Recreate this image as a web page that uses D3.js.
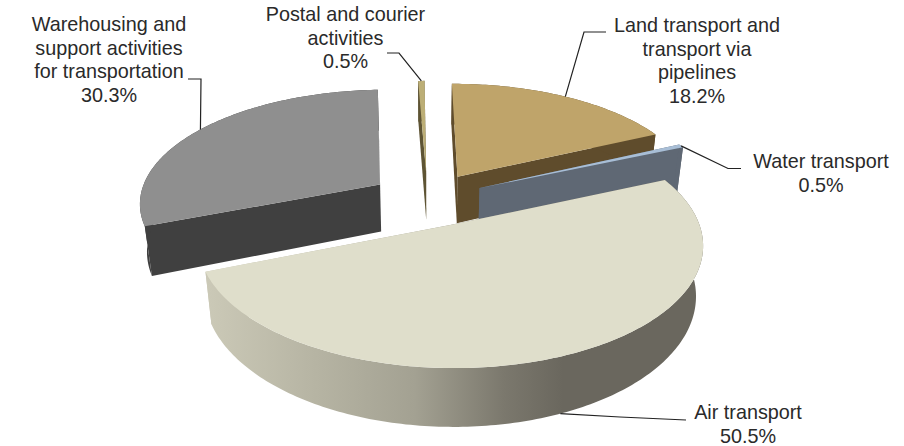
<!DOCTYPE html>
<html>
<head>
<meta charset="utf-8">
<script src="https://cdn.jsdelivr.net/npm/d3@7"></script>
<style>
  html, body { margin: 0; padding: 0; background: #fff; }
  svg { display: block; }
  text { font-family: "Liberation Sans", Arial, sans-serif; font-size: 19.8px; fill: #2a2a2a; text-anchor: middle; }
</style>
</head>
<body>
<svg></svg>
<script>
const categories = [
  "Land transport and transport via pipelines",
  "Water transport",
  "Air transport",
  "Warehousing and support activities for transportation",
  "Postal and courier activities",
];
const shares = [18.2, 0.5, 50.5, 30.3, 0.5];

const topColors = ["#bfa46a", "#a8bed6", "#dfdecb", "#8f8f8f", "#bcae76"];
const sideColors = ["#5f4c2c", "#5f6874", "url(#airSide)", "#404040", "#5e5434"];

const width = 904;
const height = 446;
const svg = d3.select("svg").attr("width", width).attr("height", height);

// pie geometry
const rotation = (-0.5 * Math.PI) / 180;
const explode = 0.24;
const perspective = 0.15;
const bottomShrink = 0.025;
const depth = 0.425;

const xScale = d3.scaleLinear().domain([-1, 1]).range([427.5 - 241, 427.5 + 241]);
const yScale = d3.scaleLinear().domain([-1, 1]).range([199 + 113, 199 - 113]);

const project = (u, z, d) => {
  const w = 1 + perspective * z;
  return [xScale(u / (w + bottomShrink * d)), yScale((z - depth * d) / w)];
};

const slices = d3
  .pie()
  .sort(null)
  .startAngle(rotation)
  .endAngle(rotation + 2 * Math.PI)(shares);

const line = d3.line();

// point on a slice in plane coordinates; r = 0 is the apex, r = 1 the rim
const pointOn = (slice, angle, r, d) => {
  const mid = (slice.startAngle + slice.endAngle) / 2;
  const u = explode * Math.sin(mid) + r * Math.sin(angle);
  const z = explode * Math.cos(mid) + r * Math.cos(angle);
  return project(u, z, d);
};

const rimAngles = (slice) => {
  const n = Math.max(2, Math.ceil((slice.endAngle - slice.startAngle) * 60));
  return d3.range(n + 1).map((i) => slice.startAngle + ((slice.endAngle - slice.startAngle) * i) / n);
};

const defs = svg.append("defs");
const airGradient = defs
  .append("linearGradient")
  .attr("id", "airSide")
  .attr("gradientUnits", "userSpaceOnUse")
  .attr("x1", 207)
  .attr("x2", 702)
  .attr("y1", 0)
  .attr("y2", 0);
[
  [0, "#cbc9b7"],
  [0.22, "#b6b4a3"],
  [0.42, "#a3a192"],
  [0.6, "#7b786d"],
  [0.72, "#6a675e"],
  [1, "#6a675e"],
].forEach((s) => airGradient.append("stop").attr("offset", s[0]).attr("stop-color", s[1]));

const groups = svg
  .append("g")
  .selectAll("g")
  .data(slices)
  .enter()
  .append("g");

groups.each(function (slice, i) {
  const g = d3.select(this);
  const angles = rimAngles(slice);
  const apexTop = pointOn(slice, 0, 0, 0);
  const apexBottom = pointOn(slice, 0, 0, 1);

  // cut faces
  [slice.startAngle, slice.endAngle].forEach((a) => {
    g.append("path")
      .attr("d", line([apexTop, pointOn(slice, a, 1, 0), pointOn(slice, a, 1, 1), apexBottom]) + "Z")
      .attr("fill", sideColors[i]);
  });

  // outer wall
  const rimTop = angles.map((a) => pointOn(slice, a, 1, 0));
  const rimBottom = angles.map((a) => pointOn(slice, a, 1, 1)).reverse();
  g.append("path")
    .attr("d", line(rimTop.concat(rimBottom)) + "Z")
    .attr("fill", sideColors[i]);

  // top surface
  g.append("path")
    .attr("d", line([apexTop].concat(rimTop)) + "Z")
    .attr("fill", topColors[i]);
});

// labels and leaders, one line of text per entry
const labelLines = [
  { lines: ["Land transport and", "transport via", "pipelines", "18.2%"], x: 697, y: 32 },
  { lines: ["Water transport", "0.5%"], x: 821, y: 168 },
  { lines: ["Air transport", "50.5%"], x: 748, y: 419 },
  { lines: ["Warehousing and", "support activities", "for transportation", "30.3%"], x: 109, y: 31 },
  { lines: ["Postal and courier", "activities", "0.5%"], x: 345.5, y: 21 },
];
const leaderElbows = [
  [[606, 32], [584, 32]],
  [[741, 168.5], [728, 168.5]],
  [[686, 420], [620, 417]],
  [[188, 79], [201, 79]],
  [[387, 53], [399, 53]],
];

slices.forEach((slice, i) => {
  const mid = (slice.startAngle + slice.endAngle) / 2;
  // the air slice leader leaves from the lower edge of its wall
  const anchor = pointOn(slice, mid, 1, i === 2 ? 1 : 0);
  svg
    .append("path")
    .attr("d", line(leaderElbows[i].concat([anchor])))
    .attr("fill", "none")
    .attr("stroke", "#222")
    .attr("stroke-width", 1.2);

  labelLines[i].lines.forEach((t, j) => {
    svg
      .append("text")
      .attr("x", labelLines[i].x)
      .attr("y", labelLines[i].y + j * 23.7)
      .text(t);
  });
});
</script>
</body>
</html>
